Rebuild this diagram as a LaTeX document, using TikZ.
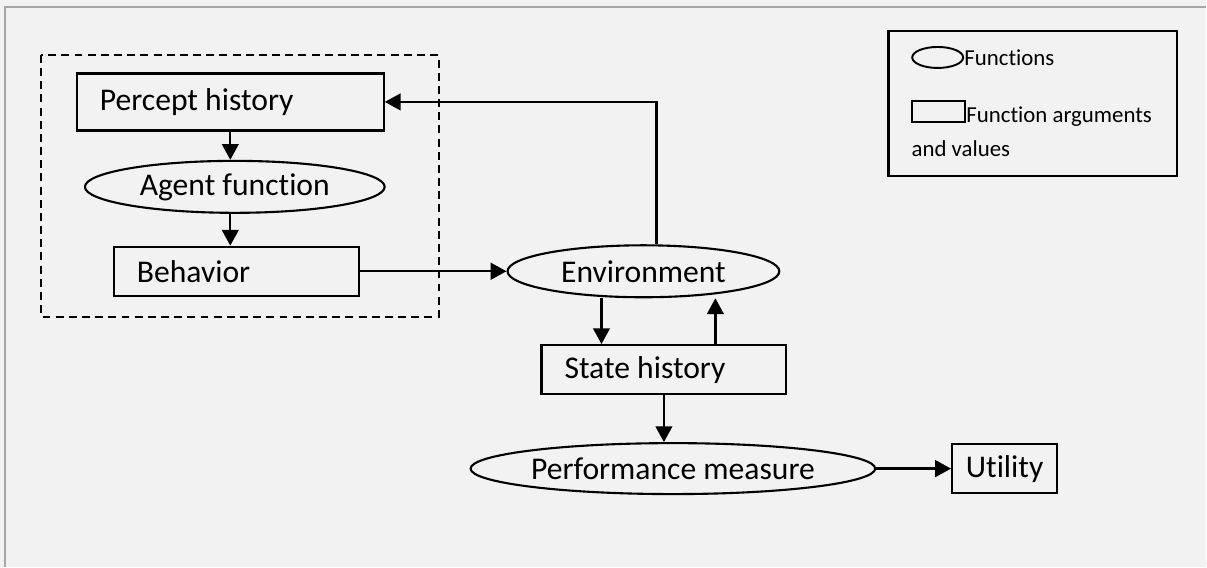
\documentclass[tikz,border=0pt]{standalone}
\usepackage{fontspec}
\setmainfont{Carlito}[Ligatures=NoCommon]
\usetikzlibrary{positioning}
\usetikzlibrary{shapes.geometric}
\usetikzlibrary{arrows.meta}
\definecolor{paper}{HTML}{F2F2F2}
\definecolor{framegray}{HTML}{A6A6A6}

\begin{document}
\begin{tikzpicture}
    [
    on grid,
    font=\fontsize{18}{20}\selectfont,
    argbox/.style={draw, line width=1.3pt, rectangle, minimum height=0.98cm, inner xsep=0.46cm, align=flush left},
    fnellipse/.style={draw, line width=1.2pt, ellipse, inner sep=0pt, minimum height=1.04cm},
    keytext/.style={font=\fontsize{13}{15}\selectfont, inner sep=0pt},
    flow/.style={-{Triangle[length=9pt, width=9.5pt]}, line width=1.3pt},
    ]

    \fill[paper] (0,0) rectangle (24.14,-11.34);
    \draw[framegray, line width=1.2pt] (0.1,-11.34) -- (0.1,-0.14) -- (24.14,-0.14);

    \node[argbox, text width=5.22cm, minimum height=1.14cm] (box_percept) at (4.61,-2.04)
    {Percept history};

    \node[fnellipse, minimum width=6cm, below right = 1.70cm and 0.09cm of box_percept] (fn_agent)
    {Agent function};

    \node[argbox, text width=3.98cm, below right = 3.39cm and 0.12cm of box_percept] (box_behavior)
    {Behavior};

    \draw[line width=1pt, dash pattern=on 4.5pt off 3pt] (0.82,-1.10) rectangle (8.78,-6.34);

    \node[fnellipse, minimum width=5.44cm, right = 8.15cm of box_behavior] (fn_env)
    {Environment};

    \node[argbox, text width=3.98cm, below right = 1.97cm and 0.41cm of fn_env] (box_state)
    {State history};

    \node[fnellipse, minimum width=8.1cm, minimum height=1.02cm, below right = 1.98cm and 0.18cm of box_state] (fn_perf)
    {Performance measure};

    \node[argbox, minimum width=2.1cm, inner xsep=0pt, align=center, right = 6.64cm of fn_perf] (box_utility)
    {Utility};

    \draw[flow] (box_percept.south) -- (box_percept.south |- fn_agent.north);
    \draw[flow] (fn_agent.south -| box_percept.south) -- (box_percept.south |- box_behavior.north);
    \draw[flow] (box_behavior.east) -- (fn_env.west);
    \draw[flow] ([xshift=0.26cm]fn_env.north) |- (box_percept.east);
    \draw[flow] ([xshift=-0.84cm]fn_env.south) -- ([xshift=-0.84cm]fn_env.south |- box_state.north);
    \draw[flow] ([xshift=1.03cm]box_state.north) -- ([xshift=1.03cm]box_state.north |- fn_env.south);
    \draw[flow] (box_state.south) -- (box_state.south |- fn_perf.north);
    \draw[flow] (fn_perf.east) -- (box_utility.west);

    % legend
    \node[draw, line width=1.5pt, minimum width=5.78cm, minimum height=2.9cm] (legend) at (20.67,-2.07) {};
    \node[draw, ellipse, line width=1.1pt, minimum width=1.02cm, minimum height=0.42cm, inner sep=0pt] (key_fn) at (18.77,-1.15) {};
    \node[keytext, anchor=west] (txt_fn) at (key_fn.east) {Functions};
    \node[draw, line width=1.1pt, minimum width=1.06cm, minimum height=0.42cm, inner sep=0pt] (key_arg) at (18.79,-2.23) {};
    \node[keytext, anchor=base west] (txt_arg) at (key_arg.south east) {Function arguments};
    \node[keytext, anchor=base west] (txt_values) at ([yshift=-0.68cm]key_arg.south west) {and values};
\end{tikzpicture}
\end{document}
